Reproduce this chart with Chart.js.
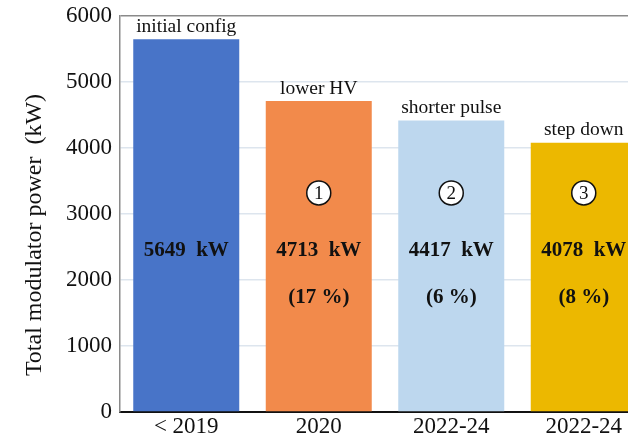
<!DOCTYPE html>
<html>
<head>
<meta charset="utf-8">
<script src="https://cdn.jsdelivr.net/npm/chart.js@4"></script>
<style>
  html, body { margin: 0; padding: 0; background: #fff; overflow: hidden; }
  #wrap { width: 652px; height: 438px; }
</style>
</head>
<body>
<div id="wrap"><canvas id="c" width="652" height="438"></canvas></div>
<script>
const categories = ['< 2019', '2020', '2022-24', '2022-24'];
const power = [5649, 4713, 4417, 4078];
const stepNames = ['initial config', 'lower HV', 'shorter pulse', 'step down'];
const reductions = [null, '(17 %)', '(6 %)', '(8 %)'];
const stepNumbers = [null, '1', '2', '3'];
const barColors = ['#4874C8', '#F28A4B', '#BDD7EE', '#ECB800'];
const yMin = 0, yMax = 6000, yStep = 1000;
const yTitle = 'Total modulator power  (kW)';

const SERIF = "'Liberation Serif', 'Times New Roman', serif";

const annot = {
  id: 'annot',
  afterDatasetsDraw(chart) {
    const ctx = chart.ctx;
    const meta = chart.getDatasetMeta(0);
    const ys = chart.scales.y;
    ctx.save();
    ctx.textAlign = 'center';
    ctx.textBaseline = 'middle';
    ctx.fillStyle = '#111';
    meta.data.forEach((bar, i) => {
      const x = bar.x;
      ctx.font = '19.5px ' + SERIF;
      ctx.fillStyle = '#111';
      ctx.fillText(stepNames[i], x, bar.y - 12.5);
      ctx.font = 'bold 21px ' + SERIF;
      ctx.fillText(power[i] + '  kW', x, ys.getPixelForValue(2450));
      if (reductions[i]) {
        ctx.fillText(reductions[i], x, ys.getPixelForValue(1740));
      }
      if (stepNumbers[i]) {
        const cy = ys.getPixelForValue(3320);
        ctx.beginPath();
        ctx.arc(x, cy, 12, 0, Math.PI * 2);
        ctx.fillStyle = '#fff';
        ctx.fill();
        ctx.lineWidth = 1.5;
        ctx.strokeStyle = '#111';
        ctx.stroke();
        ctx.fillStyle = '#111';
        ctx.font = '19px ' + SERIF;
        ctx.fillText(stepNumbers[i], x, cy + 1);
      }
    });
    // y-axis title
    ctx.save();
    ctx.translate(35, 235);
    ctx.rotate(-Math.PI / 2);
    ctx.font = '24px ' + SERIF;
    ctx.fillStyle = '#111';
    ctx.fillText(yTitle, 0, 0);
    ctx.restore();
    ctx.restore();
  }
};

new Chart(document.getElementById('c'), {
  type: 'bar',
  data: {
    labels: categories,
    datasets: [{
      data: power,
      backgroundColor: barColors,
      borderWidth: 0,
      barPercentage: 0.8,
      categoryPercentage: 1.0
    }]
  },
  options: {
    responsive: false,
    animation: false,
    devicePixelRatio: 1,
    layout: { padding: { top: 16, right: 2, left: 0, bottom: 0 } },
    plugins: { legend: { display: false }, tooltip: { enabled: false } },
    scales: {
      x: {
        grid: { display: false, drawTicks: false },
        border: { display: true, color: '#111', width: 2 },
        ticks: { color: '#111', font: { family: SERIF, size: 23 }, padding: 1, maxRotation: 0 },
        afterFit(s) { s.height = 26; s.paddingLeft = 0; s.paddingRight = 0; }
      },
      y: {
        min: yMin, max: yMax,
        grid: {
          drawTicks: false,
          color: (c) => (c.tick && c.tick.value === yMax) ? '#8a8a8a' : '#DDE5EE',
          lineWidth: 1.5
        },
        border: { display: true, color: '#8a8a8a', width: 1.5 },
        ticks: {
          stepSize: yStep, color: '#111', font: { family: SERIF, size: 23 }, padding: 8,
          callback: (v) => String(v)
        },
        afterFit(s) { s.width = 120; s.paddingTop = 0; s.paddingBottom = 0; }
      }
    }
  },
  plugins: [annot]
});
</script>
</body>
</html>
